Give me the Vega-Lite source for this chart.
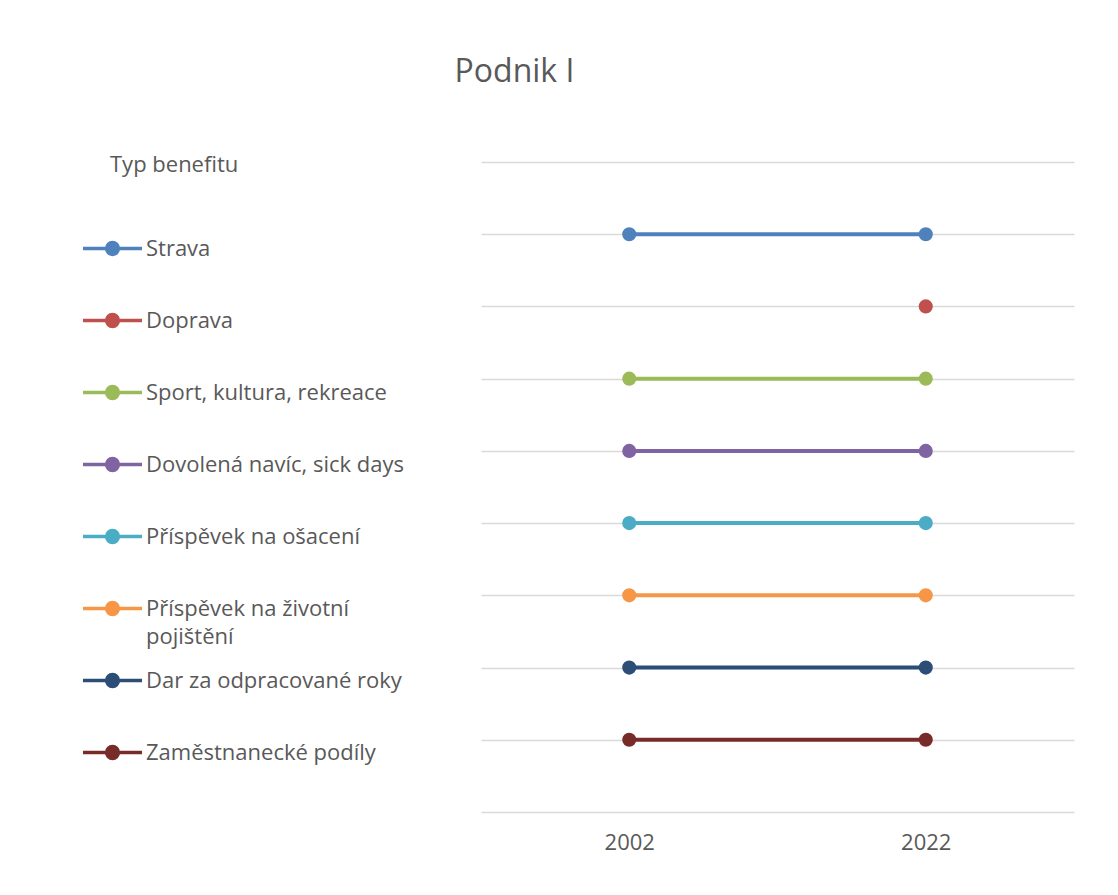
{
  "$schema": "https://vega.github.io/schema/vega-lite/v6.json",
  "autosize": "none",
  "width": 593,
  "height": 650,
  "padding": {"left": 481, "top": 162, "right": 44, "bottom": 83},
  "background": "white",
  "title": {
    "text": "Podnik I",
    "font": "Open Sans",
    "fontSize": 32,
    "fontWeight": "normal",
    "color": "#595959",
    "anchor": "middle",
    "frame": "group",
    "baseline": "alphabetic",
    "offset": 41,
    "dx": -263
  },
  "data": {
    "values": [
      {"benefit": "Strava", "year": "2002", "rank": 8},
      {"benefit": "Strava", "year": "2022", "rank": 8},
      {"benefit": "Doprava", "year": "2022", "rank": 7},
      {"benefit": "Sport, kultura, rekreace", "year": "2002", "rank": 6},
      {"benefit": "Sport, kultura, rekreace", "year": "2022", "rank": 6},
      {"benefit": "Dovolená navíc, sick days", "year": "2002", "rank": 5},
      {"benefit": "Dovolená navíc, sick days", "year": "2022", "rank": 5},
      {"benefit": "Příspěvek na ošacení", "year": "2002", "rank": 4},
      {"benefit": "Příspěvek na ošacení", "year": "2022", "rank": 4},
      {"benefit": "Příspěvek na životní pojištění", "year": "2002", "rank": 3},
      {"benefit": "Příspěvek na životní pojištění", "year": "2022", "rank": 3},
      {"benefit": "Dar za odpracované roky", "year": "2002", "rank": 2},
      {"benefit": "Dar za odpracované roky", "year": "2022", "rank": 2},
      {"benefit": "Zaměstnanecké podíly", "year": "2002", "rank": 1},
      {"benefit": "Zaměstnanecké podíly", "year": "2022", "rank": 1}
    ]
  },
  "encoding": {
    "x": {
      "field": "year",
      "type": "ordinal",
      "scale": {"type": "point", "padding": 0.5},
      "axis": {
        "title": null,
        "labelAngle": 0,
        "ticks": false,
        "tickSize": 0,
        "domain": false,
        "grid": false,
        "labelFont": "Open Sans",
        "labelFontSize": 22,
        "labelColor": "#595959",
        "labelPadding": 20
      }
    },
    "y": {
      "field": "rank",
      "type": "quantitative",
      "scale": {"domain": [0, 9], "nice": false, "zero": false},
      "axis": {
        "title": null,
        "values": [0, 1, 2, 3, 4, 5, 6, 7, 8, 9],
        "labels": false,
        "ticks": false,
        "domain": false,
        "grid": true,
        "gridColor": "#d9d9d9",
        "gridWidth": 1.5
      }
    },
    "color": {
      "field": "benefit",
      "type": "nominal",
      "scale": {
        "domain": ["Strava", "Doprava", "Sport, kultura, rekreace", "Dovolená navíc, sick days", "Příspěvek na ošacení", "Příspěvek na životní pojištění", "Dar za odpracované roky", "Zaměstnanecké podíly"],
        "range": ["#4f81bd", "#c0504d", "#9bbb59", "#8064a2", "#4bacc6", "#f79646", "#2c4d75", "#772c2a"]
      },
      "legend": {
        "title": "Typ benefitu",
        "orient": "none",
        "legendX": -400,
        "legendY": -7,
        "titleFont": "Open Sans",
        "titleFontSize": 22,
        "titleFontWeight": "normal",
        "titleColor": "#595959",
        "titlePadding": 40,
        "labelFont": "Open Sans",
        "labelFontSize": 22,
        "labelColor": "#595959",
        "labelLimit": 500,
        "labelOffset": 2,
        "labelBaseline": "alphabetic",
        "labelExpr": "datum.label == 'Příspěvek na životní pojištění' ? ['Příspěvek na životní', 'pojištění'] : [datum.label, '']",
        "symbolType": "M-1,0L1,0M-0.2,0A0.2,0.2,0,1,1,0.2,0A0.2,0.2,0,1,1,-0.2,0Z",
        "symbolSize": 3481,
        "symbolStrokeWidth": 3.5,
        "rowPadding": 1,
        "encode": {
          "symbols": {
            "update": {
              "fill": {"scale": "color", "field": "value"},
              "stroke": {"scale": "color", "field": "value"},
              "opacity": {"value": 1}
            }
          },
          "labels": {
            "update": {
              "dy": {"value": 7},
              "lineHeight": {"value": 28}
            }
          },
          "title": {
            "update": {
              "dx": {"value": 29}
            }
          }
        }
      }
    }
  },
  "layer": [
    {"mark": {"type": "line", "strokeWidth": 4}},
    {"mark": {"type": "point", "filled": true, "size": 200, "opacity": 1, "shape": "circle"}}
  ],
  "config": {
    "view": {"stroke": null},
    "font": "Open Sans"
  }
}
